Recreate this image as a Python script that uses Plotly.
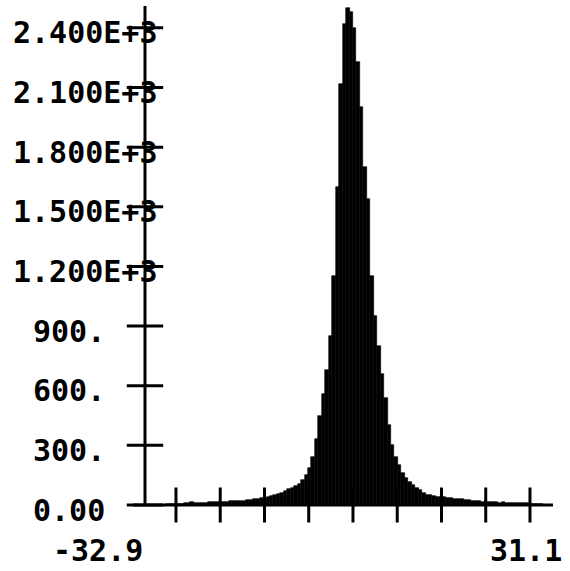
import numpy as np
import plotly.graph_objects as go

# ---- data -------------------------------------------------------------
BIN_START = -28.0
BIN_WIDTH = 0.5
counts = [
    2, 2, 3, 4, 5, 6, 7, 8, 10, 14,
    11, 10, 12, 12, 15, 13, 14, 15, 16, 17,
    18, 20, 20, 22, 22, 24, 25, 28, 30, 33,
    36, 40, 45, 50, 55, 62, 70, 78, 85, 95,
    105, 125, 150, 185, 240, 330, 450, 560, 680, 850,
    1150, 1600, 2120, 2420, 2500, 2480,
    2400, 2230, 2000, 1700, 1540, 1150, 950, 800, 660, 540,
    400, 300, 240, 200, 160, 135, 115, 100, 88, 75,
    62, 52, 48, 45, 42, 40, 38, 35, 33, 30,
    30, 28, 27, 25, 22, 20, 18, 17, 16, 15,
    14, 14, 12, 13, 11, 10, 12, 10, 9, 11,
    8, 7, 5, 4, 3, 2,
]
bin_centers = BIN_START + BIN_WIDTH * (np.arange(len(counts)) + 0.5)

x_tick_values = [-25.6, -19.2, -12.8, -6.4, 0.0, 6.4, 12.8, 19.2, 25.6]
y_tick_values = [0, 300, 600, 900, 1200, 1500, 1800, 2100, 2400]
y_tick_labels = ["0.00", "300.", "600.", "900.", "1.200E+3", "1.500E+3",
                 "1.800E+3", "2.100E+3", "2.400E+3"]
x_end_labels = ["-32.9", "31.1"]

# ---- layout geometry ---------------------------------------------------
W, H = 570, 571
ML, MR, MT, MB = 145, 17, 6, 66
PW = W - ML - MR
PH = H - MT - MB
X_RANGE = [-30.08, 28.93]
Y_RANGE = [0, 2510]
FONT = dict(family="DejaVu Sans Mono", size=30, color="black", weight="bold")

fig = go.Figure()
fig.add_trace(go.Bar(
    x=bin_centers, y=counts, width=BIN_WIDTH,
    marker=dict(color="black", line=dict(color="black", width=0.6)),
    showlegend=False, hoverinfo="skip",
))
# crossing tick marks
fig.add_trace(go.Scatter(
    x=x_tick_values, y=[0] * len(x_tick_values), mode="markers",
    marker=dict(symbol="line-ns", size=25, line=dict(color="black", width=3)),
    cliponaxis=False, showlegend=False, hoverinfo="skip",
))
fig.add_trace(go.Scatter(
    x=[X_RANGE[0]] * len(y_tick_values), y=y_tick_values, mode="markers",
    marker=dict(symbol="line-ew", size=26, line=dict(color="black", width=3)),
    cliponaxis=False, showlegend=False, hoverinfo="skip",
))

shapes = [
    dict(type="line", xref="paper", yref="paper", x0=-12 / PW, x1=1, y0=0, y1=0,
         line=dict(color="black", width=3)),
    dict(type="line", xref="paper", yref="paper", x0=0, x1=0, y0=0, y1=1,
         line=dict(color="black", width=3)),
]

annotations = []
for v, lab in zip(y_tick_values, y_tick_labels):
    left_px = 11 if len(lab) > 5 else 31
    annotations.append(dict(
        xref="paper", yref="y", x=(left_px - ML) / PW, y=v, xanchor="left",
        yanchor="middle", yshift=-5, text=lab, showarrow=False, font=FONT))
for lab, cx in zip(x_end_labels, [98, 526]):
    annotations.append(dict(
        xref="paper", yref="paper", x=(cx - ML) / PW, y=-45 / PH,
        xanchor="center", yanchor="middle", text=lab, showarrow=False, font=FONT))

fig.update_layout(
    width=W, height=H, margin=dict(l=ML, r=MR, t=MT, b=MB),
    paper_bgcolor="white", plot_bgcolor="white", bargap=0,
    xaxis=dict(range=X_RANGE, showgrid=False, zeroline=False, showline=False,
               showticklabels=False, ticks=""),
    yaxis=dict(range=Y_RANGE, showgrid=False, zeroline=False, showline=False,
               showticklabels=False, ticks=""),
    shapes=shapes, annotations=annotations,
)
fig.write_html("out.html",
               config={"displayModeBar": False},
               post_script="document.body.style.margin='0px';"
                           "document.body.style.overflow='hidden';")
